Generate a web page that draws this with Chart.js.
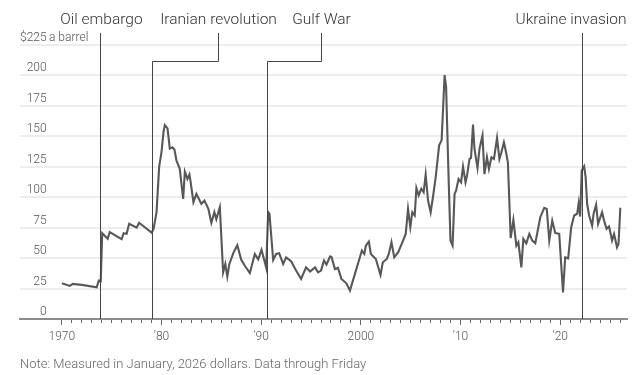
<!DOCTYPE html>
<html>
<head>
<meta charset="utf-8">
<script src="https://cdn.jsdelivr.net/npm/chart.js@4.4.1/dist/chart.umd.min.js"></script>
<style>
  html, body { margin: 0; padding: 0; background: #fff; }
  #wrap { position: relative; width: 643px; height: 375px; }
  #note {
    position: absolute; left: 20px; top: 356px;
    font: 300 13px Roboto, sans-serif;
    color: #666;
    white-space: nowrap;
  }
</style>
</head>
<body>
<div id="wrap">
  <canvas id="chart" width="643" height="375"></canvas>
  <div id="note">Note: Measured in January, 2026 dollars. Data through Friday</div>
</div>
<script>
const FONT = 'Roboto, sans-serif';

// price per barrel in Jan-2026 dollars
const years = [
  1970.0, 1970.8, 1971.1, 1972.0, 1973.5, 1973.7, 1973.9, 1974.05, 1974.6, 1974.8,
  1975.4, 1976.0, 1976.2, 1976.5, 1976.75, 1977.5, 1977.75, 1979.0, 1979.2, 1979.5,
  1979.76, 1980.0, 1980.2, 1980.33, 1980.6, 1980.83, 1981.1, 1981.3, 1981.5, 1981.83,
  1982.17, 1982.34, 1982.6, 1982.8, 1982.9, 1983.2, 1983.5, 1984.0, 1984.3, 1984.7,
  1985.0, 1985.3, 1985.5, 1985.85, 1986.18, 1986.4, 1986.6, 1986.8, 1987.2, 1987.6,
  1988.0, 1988.36, 1988.86, 1989.36, 1989.7, 1990.03, 1990.5, 1990.7, 1990.83, 1991.2,
  1991.5, 1991.8, 1992.2, 1992.5, 1993.0, 1993.47, 1994.0, 1994.5, 1994.9, 1995.4,
  1995.7, 1996.0, 1996.3, 1996.55, 1996.9, 1997.05, 1997.4, 1997.7, 1998.05, 1998.55,
  1998.9, 1999.3, 1999.7, 2000.1, 2000.35, 2000.5, 2000.8, 2001.0, 2001.5, 2001.97,
  2002.2, 2002.6, 2002.8, 2003.07, 2003.35, 2003.75, 2004.23, 2004.5, 2004.73, 2004.96,
  2005.16, 2005.4, 2005.57, 2005.8, 2006.06, 2006.3, 2006.5, 2006.74, 2007.0, 2007.23,
  2007.5, 2007.85, 2008.1, 2008.4, 2008.55, 2008.8, 2008.99, 2009.2, 2009.4, 2009.55,
  2009.8, 2010.05, 2010.25, 2010.5, 2010.65, 2010.9, 2011.05, 2011.25, 2011.4, 2011.7,
  2011.9, 2012.2, 2012.4, 2012.65, 2012.85, 2013.1, 2013.35, 2013.66, 2013.9, 2014.1,
  2014.35, 2014.5, 2014.75, 2015.03, 2015.3, 2015.6, 2015.8, 2016.1, 2016.3, 2016.6,
  2016.9, 2017.2, 2017.5, 2018.0, 2018.4, 2018.65, 2018.9, 2019.2, 2019.5, 2019.9,
  2020.28, 2020.5, 2020.8, 2021.1, 2021.4, 2021.7, 2021.85, 2022.0, 2022.16, 2022.4,
  2022.55, 2022.7, 2022.9, 2023.2, 2023.35, 2023.6, 2023.8, 2024.2, 2024.4, 2024.65,
  2024.9, 2025.2, 2025.4, 2025.7, 2025.85, 2026.03
];
const prices = [
  29.3, 27.2, 28.8, 28.0, 26.1, 31.5, 31, 70.5, 65.9, 71.4,
  68.5, 65.6, 70.5, 70, 78.2, 75, 79, 71, 74, 87.8,
  124.9, 137.3, 153.7, 159.2, 156.5, 139.9, 141, 139, 130, 123.3,
  98.6, 121, 115, 118.6, 113.7, 96, 102.7, 94.5, 97.2, 90.4,
  78.9, 87.7, 82, 91.8, 38.3, 45.2, 34.8, 45, 54.1, 60.6,
  48.6, 43.7, 37.7, 53.3, 49, 56.8, 42.2, 87.8, 86.4, 48.5,
  53.4, 54, 45.2, 50.6, 47.4, 40.2, 32.9, 42.4, 39, 42.4,
  38.3, 39.7, 48, 44.7, 51.3, 51, 41, 41.9, 32.9, 29.3,
  23.3, 34.2, 45.2, 56.2, 53.4, 60.2, 63.6, 53.4, 49.3, 36.2,
  46.6, 49.3, 53.4, 63, 50.6, 54.8, 64.4, 69.9, 90.4, 75.4,
  87.7, 85, 107.5, 101.5, 107, 104, 118.6, 97.3, 87.7, 100,
  116, 142.6, 146.7, 200.3, 190.7, 116.5, 64.4, 60.3, 102.7, 105.4,
  115, 112.2, 125.1, 112.2, 117.7, 131.4, 132.2, 159.7, 139.6, 124,
  139.6, 150.6, 119, 132.8, 123.2, 132.8, 131.4, 148.7, 131.4, 136.9,
  145.1, 139.6, 128.7, 66.5, 81.3, 60.2, 63, 42.4, 65.8, 62.2,
  69.9, 64.4, 62.2, 83.6, 91.3, 90.4, 64.4, 80.8, 70.7, 69.9,
  21.8, 50.6, 49.8, 75.4, 85, 86.4, 95.1, 84.1, 122, 125.3,
  116.5, 94.6, 85, 76.7, 86.4, 93.7, 78.1, 87.7, 80.8, 74,
  75.9, 64.4, 69.9, 58.9, 61.7, 91.3
];

const yTicks = [0, 25, 50, 75, 100, 125, 150, 175, 200, 225];
const majorYears = [1970, 1980, 1990, 2000, 2010, 2020];
const majorLabels = ['1970', '\u201980', '\u201990', '2000', '\u201910', '\u201920'];

const eventNames = ['Oil embargo', 'Iranian revolution', 'Gulf War', 'Ukraine invasion'];
const eventYears = [1973.8, 1979.0, 1990.6, 2022.15];

// where each label sits relative to its event line (px), and how it is aligned
const labelShift = [1, 66, 54, 44];
const labelAlign = ['center', 'center', 'center', 'right'];
const elbow = [false, true, true, false];

const eventsPlugin = {
  id: 'events',
  afterDatasetsDraw(chart) {
    const {ctx, scales: {x, y}} = chart;
    const base = y.getPixelForValue(0);
    ctx.save();
    ctx.strokeStyle = '#444';
    ctx.lineWidth = 1;
    ctx.fillStyle = '#333';
    ctx.font = '300 15.5px ' + FONT;
    ctx.textBaseline = 'alphabetic';
    eventYears.forEach((yr, i) => {
      const lx = Math.round(x.getPixelForValue(yr)) + 0.5;
      const tx = lx + labelShift[i];
      ctx.textAlign = labelAlign[i];
      ctx.fillText(eventNames[i], tx, 23.5);
      ctx.beginPath();
      if (elbow[i]) {
        ctx.moveTo(tx, 33);
        ctx.lineTo(tx, 61.5);
        ctx.lineTo(lx, 61.5);
      } else {
        ctx.moveTo(lx, 33);
      }
      ctx.lineTo(lx, base);
      ctx.stroke();
    });
    // unit next to the top tick
    ctx.font = '300 12px ' + FONT;
    ctx.fillStyle = '#555';
    ctx.textAlign = 'left';
    ctx.textBaseline = 'middle';
    ctx.fillText('a barrel', 49, y.getPixelForValue(225) - 7);
    ctx.restore();
  }
};

new Chart(document.getElementById('chart'), {
  type: 'line',
  data: {
    datasets: [{
      data: years.map((yr, i) => ({x: yr, y: prices[i]})),
      borderColor: '#585858',
      borderWidth: 2.1,
      pointRadius: 0,
      tension: 0,
      fill: false
    }]
  },
  options: {
    responsive: false,
    animation: false,
    layout: {padding: {left: 20, right: 16, top: 45, bottom: 20}},
    plugins: {legend: {display: false}, tooltip: {enabled: false}},
    scales: {
      x: {
        type: 'linear',
        min: 1965.8,
        max: 2026.7,
        afterBuildTicks: s => {
          const t = [];
          for (let v = 1970; v <= 2026; v++) t.push({value: v});
          s.ticks = t;
        },
        afterFit: s => { s.height = 36; },
        border: {display: true, color: '#8c8c8c', width: 2},
        grid: {
          drawOnChartArea: false,
          drawTicks: true,
          tickLength: 6,
          tickColor: '#666',
          tickWidth: 1,
          tickBorderDash: c => (c.tick && majorYears.includes(c.tick.value)) ? [] : [3, 20]
        },
        ticks: {
          autoSkip: false,
          maxRotation: 0,
          padding: 5,
          color: '#555',
          font: {family: FONT, size: 12, weight: '300'},
          callback: v => {
            const k = majorYears.indexOf(v);
            return k >= 0 ? majorLabels[k] : '';
          }
        }
      },
      y: {
        min: 0,
        max: 225,
        afterBuildTicks: s => { s.ticks = yTicks.map(v => ({value: v})); },
        afterFit: s => { s.width = 0; },
        border: {display: false},
        grid: {
          drawTicks: false,
          lineWidth: 2,
          color: c => (c.tick && c.tick.value === 0) ? 'rgba(0,0,0,0)' : '#ededed'
        },
        ticks: {
          mirror: true,
          crossAlign: 'far',
          padding: 0,
          labelOffset: -7,
          color: '#555',
          font: {family: FONT, size: 12, weight: '300'},
          callback: v => v === 225 ? '$225' : String(v)
        }
      }
    }
  },
  plugins: [eventsPlugin]
});
</script>
</body>
</html>
